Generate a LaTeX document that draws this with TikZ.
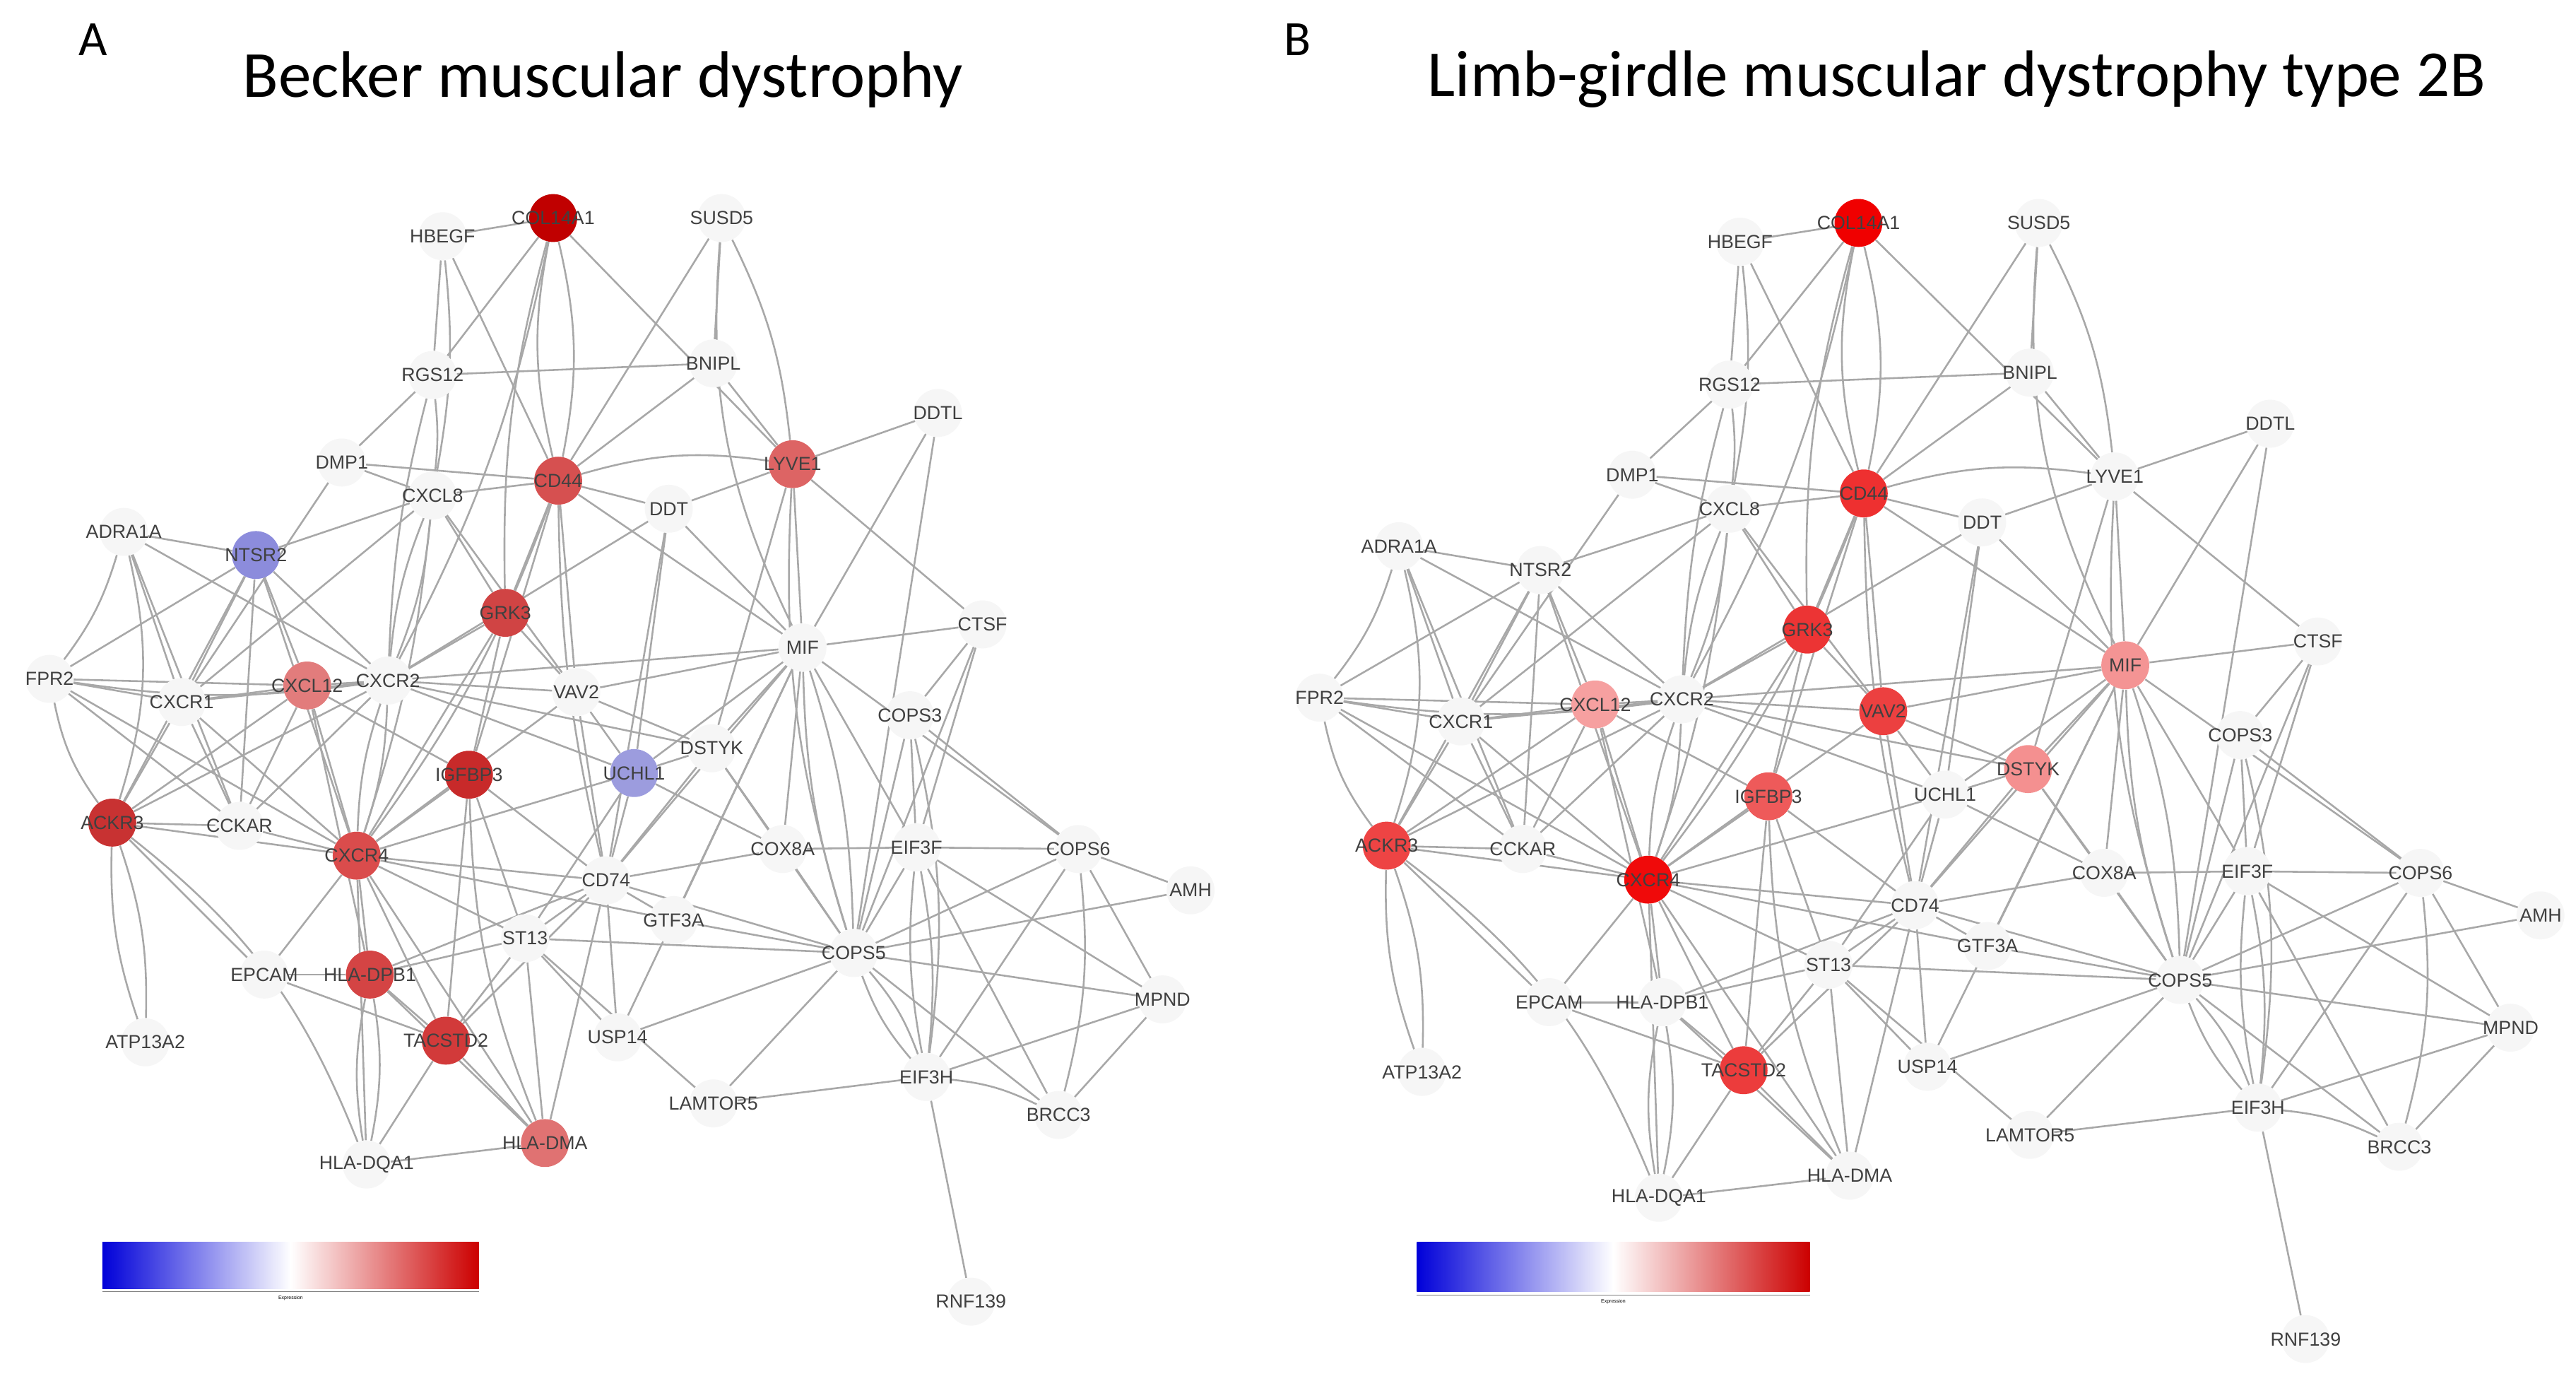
\documentclass[tikz,border=0pt]{standalone}
\usepackage{fontspec}
\setmainfont{Liberation Sans}
\newfontfamily\titlefont{Carlito}
\pgfdeclarelayer{bg}
\pgfsetlayers{bg,main}
\definecolor{nw}{HTML}{F6F6F6}
\definecolor{edgec}{HTML}{A8A8A8}
\tikzset{
 nd/.style={circle,minimum size=29bp,inner sep=0pt,draw=none},
 lb/.style={font=\fontsize{11.5}{12}\selectfont,text=black!75},
 ed/.style={draw=edgec,line width=1.1bp},
}
\def\nodelist{COL/335/132/COL14A1,HBEGF/268/143/HBEGF,SUSD5/437/132/SUSD5,RGS/262/227/RGS12,BNIPL/432/220/BNIPL,DDTL/568/250/DDTL,DMP/207/280/DMP1,CD44/338/291/CD44,LYVE/480/281/LYVE1,CXCL8/262/300/CXCL8,DDT/405/308/DDT,ADRA/75/322/ADRA1A,NTSR/155/336/NTSR2,GRK/306/371/GRK3,MIF/486/392/MIF,CTSF/595/378/CTSF,FPR/30/411/FPR2,CXCR1/110/425/CXCR1,CXCL12/186/415/CXCL12,CXCR2/235/412/CXCR2,VAV/349/419/VAV2,COPS3/551/433/COPS3,DSTYK/431/453/DSTYK,UCHL/384/468/UCHL1,IGF/284/469/IGFBP3,ACKR/68/498/ACKR3,CCKAR/145/500/CCKAR,CXCR4/216/518/CXCR4,COX/474/514/COX8A,EIF3F/555/513/EIF3F,COPS6/653/514/COPS6,AMH/721/539/AMH,CD74/367/533/CD74,GTF/408/557/GTF3A,ST13/318/568/ST13,COPS5/517/577/COPS5,EPCAM/160/590/EPCAM,DPB/224/590/HLA-DPB1,MPND/704/605/MPND,ATP/88/631/ATP13A2,TAC/270/630/TACSTD2,USP/374/628/USP14,EIF3H/561/652/EIF3H,LAM/432/668/LAMTOR5,BRCC/641/675/BRCC3,DQA/222/705/HLA-DQA1,DMA/330/692/HLA-DMA,RNF/588/788/RNF139}
\def\edgelist{COL/HBEGF/0,COL/CD44/12,COL/CD44/-12,COL/RGS/0,COL/LYVE/0,COL/CXCR2/8,COL/GRK/-8,SUSD5/LYVE/10,SUSD5/CD44/0,SUSD5/MIF/-15,SUSD5/BNIPL/0,HBEGF/RGS/0,HBEGF/CD44/0,HBEGF/CXCL8/8,RGS/BNIPL/0,RGS/CXCL8/6,RGS/CXCR2/-6,RGS/DMP/0,BNIPL/LYVE/0,BNIPL/CD44/0,DDTL/LYVE/0,DDTL/MIF/0,DDTL/COPS5/0,DMP/CD44/0,DMP/CXCR1/0,DMP/CXCL8/0,CD44/CXCL8/0,CD44/GRK/0,CD44/DDT/0,CD44/CXCR4/8,CD44/IGF/0,CD44/MIF/0,CD44/LYVE/12,CD44/VAV/0,CD44/CD74/-6,LYVE/DDT/0,LYVE/MIF/0,LYVE/COPS5/-10,LYVE/DSTYK/0,LYVE/CTSF/0,CXCL8/CXCR1/0,CXCL8/CXCR2/8,CXCL8/CXCR2/-8,CXCL8/NTSR/0,CXCL8/GRK/0,CXCL8/CXCR4/6,CXCL8/VAV/0,DDT/MIF/0,DDT/UCHL/0,DDT/CD74/0,DDT/CXCR2/0,ADRA/NTSR/0,ADRA/FPR/10,ADRA/CXCR1/0,ADRA/CXCR2/0,ADRA/ACKR/15,ADRA/CCKAR/0,NTSR/FPR/0,NTSR/CXCR1/0,NTSR/CXCR2/0,NTSR/CXCL12/0,NTSR/CCKAR/0,NTSR/ACKR/0,NTSR/CXCR4/0,GRK/CXCR2/0,GRK/CXCR4/0,GRK/VAV/0,GRK/IGF/0,MIF/CTSF/0,MIF/VAV/0,MIF/DSTYK/0,MIF/CD74/0,MIF/COPS5/8,MIF/COPS5/-8,MIF/COX/0,MIF/UCHL/0,MIF/CXCR2/0,MIF/EIF3F/0,MIF/COPS6/0,MIF/USP/0,MIF/GTF/0,CTSF/COPS5/0,CTSF/EIF3F/0,CTSF/COPS3/0,FPR/CXCR1/0,FPR/CXCR2/-8,FPR/ACKR/-12,FPR/CXCL12/0,FPR/CCKAR/0,FPR/CXCR4/0,CXCR1/CXCR2/0,CXCR1/CXCL12/0,CXCR1/ACKR/0,CXCR1/CCKAR/0,CXCR1/CXCR4/0,CXCL12/CXCR2/0,CXCL12/CXCR4/0,CXCL12/ACKR/0,CXCL12/CCKAR/0,CXCL12/DPB/0,CXCL12/IGF/0,CXCR2/CXCR4/8,CXCR2/CXCR4/-8,CXCR2/VAV/0,CXCR2/ACKR/0,CXCR2/CCKAR/0,CXCR2/UCHL/0,CXCR2/DSTYK/0,VAV/CXCR4/0,VAV/CD74/0,VAV/UCHL/0,VAV/DSTYK/0,COPS3/COPS5/0,COPS3/EIF3F/0,COPS3/COPS6/0,COPS3/EIF3H/10,DSTYK/UCHL/0,DSTYK/COX/0,DSTYK/CD74/0,DSTYK/COPS5/0,UCHL/CD74/0,UCHL/CXCR4/0,UCHL/COX/0,UCHL/ST13/0,IGF/CXCR4/0,IGF/CD74/0,IGF/ST13/0,IGF/TAC/0,IGF/DMA/-10,ACKR/CCKAR/0,ACKR/CXCR4/0,ACKR/ATP/10,ACKR/ATP/-10,ACKR/DQA/15,ACKR/EPCAM/0,CCKAR/CXCR4/0,CXCR4/CD74/0,CXCR4/ST13/0,CXCR4/DPB/0,CXCR4/TAC/0,CXCR4/EPCAM/0,CXCR4/DMA/0,CXCR4/DQA/0,CXCR4/GTF/0,COX/COPS5/0,COX/EIF3F/0,COX/CD74/0,EIF3F/COPS5/0,EIF3F/COPS6/0,EIF3F/EIF3H/8,EIF3F/EIF3H/-8,EIF3F/MPND/0,EIF3F/BRCC/0,COPS6/COPS5/0,COPS6/MPND/0,COPS6/EIF3H/0,COPS6/BRCC/10,COPS6/AMH/0,AMH/COPS5/0,CD74/ST13/0,CD74/GTF/0,CD74/USP/0,CD74/COPS5/0,CD74/DPB/0,CD74/TAC/0,CD74/DMA/0,ST13/DPB/0,ST13/USP/0,ST13/LAM/0,ST13/TAC/0,ST13/DMA/0,COPS5/EIF3H/10,COPS5/EIF3H/-10,COPS5/MPND/0,COPS5/BRCC/0,COPS5/USP/0,COPS5/GTF/0,COPS5/ST13/0,COPS5/LAM/0,EPCAM/DPB/0,EPCAM/TAC/0,DPB/TAC/0,DPB/DQA/10,DPB/DQA/-10,DPB/DMA/0,MPND/EIF3H/0,MPND/BRCC/0,EIF3H/BRCC/10,EIF3H/LAM/0,EIF3H/RNF/0,TAC/DQA/0,TAC/DMA/0,DQA/DMA/0}
\def\allkeys{COL,HBEGF,SUSD5,RGS,BNIPL,DDTL,DMP,CD44,LYVE,CXCL8,DDT,ADRA,NTSR,GRK,MIF,CTSF,FPR,CXCR1,CXCL12,CXCR2,VAV,COPS3,DSTYK,UCHL,IGF,ACKR,CCKAR,CXCR4,COX,EIF3F,COPS6,AMH,CD74,GTF,ST13,COPS5,EPCAM,DPB,MPND,ATP,TAC,USP,EIF3H,LAM,BRCC,DQA,DMA,RNF}
\foreach \k in \allkeys {\xglobal\colorlet{cA\k}{nw}\xglobal\colorlet{cB\k}{nw}}
\definecolor{cACOL}{HTML}{C00000}
\definecolor{cACD44}{HTML}{D65050}
\definecolor{cALYVE}{HTML}{DD6464}
\definecolor{cANTSR}{HTML}{8C8CDC}
\definecolor{cAGRK}{HTML}{D04444}
\definecolor{cACXCL12}{HTML}{E27C7C}
\definecolor{cAIGF}{HTML}{C82A2A}
\definecolor{cAUCHL}{HTML}{9C9CDE}
\definecolor{cAACKR}{HTML}{C83232}
\definecolor{cACXCR4}{HTML}{DA4C4C}
\definecolor{cADPB}{HTML}{D44444}
\definecolor{cATAC}{HTML}{D23A3A}
\definecolor{cADMA}{HTML}{E07272}
\definecolor{cBCOL}{HTML}{F00000}
\definecolor{cBCD44}{HTML}{EE3030}
\definecolor{cBGRK}{HTML}{EC3434}
\definecolor{cBVAV}{HTML}{EC4040}
\definecolor{cBMIF}{HTML}{F49494}
\definecolor{cBCXCL12}{HTML}{F6A0A0}
\definecolor{cBDSTYK}{HTML}{F49090}
\definecolor{cBIGF}{HTML}{EE5A5A}
\definecolor{cBACKR}{HTML}{EE4444}
\definecolor{cBCXCR4}{HTML}{F00A0A}
\definecolor{cBTAC}{HTML}{EC3C3C}
\newcommand\drawnet{%
 \foreach \k/\x/\y/\l in \nodelist {\node[nd,fill=c\P\k,label={[lb]center:\l}] (\P\k) at (\x,\y) {};}
 \begin{pgfonlayer}{bg}
 \foreach \a/\b/\s in \edgelist {\draw[ed] (\P\a) to[bend left=\s] (\P\b);}
 \end{pgfonlayer}}
\begin{document}
\begin{tikzpicture}[x=1bp,y=-1bp]
\begin{pgfonlayer}{bg}
\fill[white] (0,0) rectangle (1560,836);
\end{pgfonlayer}
\useasboundingbox (0,0) rectangle (1560,836);
\node[font=\titlefont\fontsize{30}{32}\selectfont,anchor=west] (LA) at (44,24) {A};
\node[font=\titlefont\fontsize{40}{44}\selectfont] (TA) at (365,48) {Becker muscular dystrophy};
\node[font=\titlefont\fontsize{30}{32}\selectfont,anchor=west] (LB) at (774,24) {B};
\node[font=\titlefont\fontsize{40}{44}\selectfont] (TB) at (1185,48) {Limb-girdle muscular dystrophy type 2B};
\begin{scope}
 \def\P{A}\drawnet
\end{scope}
\begin{scope}[shift={(767,-1)},xscale=1.07,yscale=1.03]
 \def\P{B}\drawnet
\end{scope}
\shade[left color=blue!85!black,right color=red!80!black,middle color=white] (62,752) rectangle (290,780);
\draw[black!50,line width=0.4bp] (62,782) -- (290,782);
\node[font=\fontsize{3}{3}\selectfont] (EA) at (176,786) {Expression};
\shade[left color=blue!85!black,right color=red!80!black,middle color=white] (858,752) rectangle (1096,782);
\draw[black!50,line width=0.4bp] (858,784) -- (1096,784);
\node[font=\fontsize{3}{3}\selectfont] (EB) at (977,788) {Expression};
\end{tikzpicture}
\end{document}
